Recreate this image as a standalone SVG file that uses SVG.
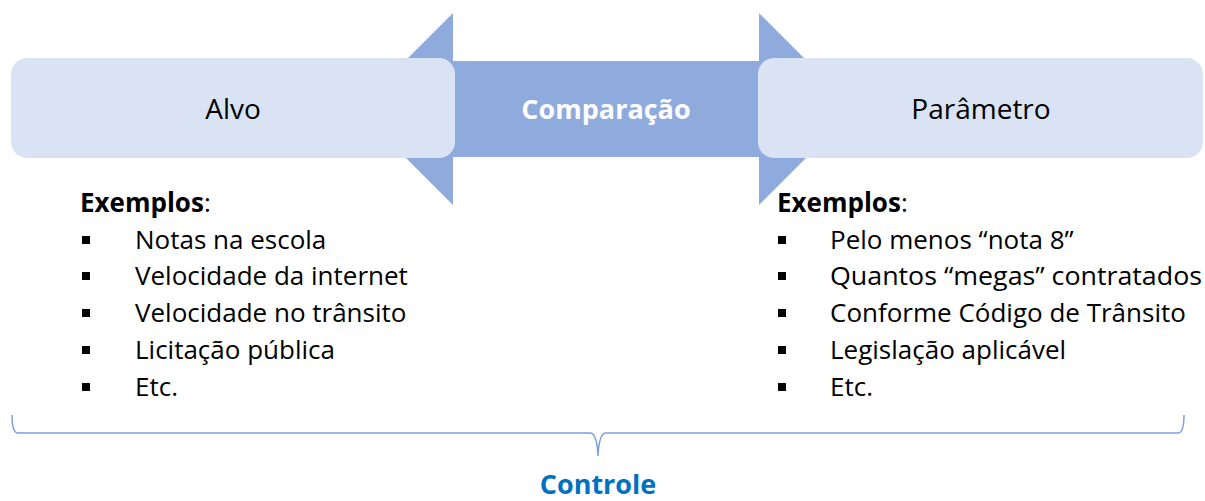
<svg xmlns="http://www.w3.org/2000/svg" width="1205" height="501" viewBox="0 0 1205 501">
<style>
.box{fill:#DAE3F3}
.arr{fill:#8FAADC}
.t{font-family:"Open Sans","Noto Sans",sans-serif;font-size:26px;fill:#000}
.lab{font-family:"Open Sans","Noto Sans",sans-serif;font-size:28px;fill:#000;text-anchor:middle}
.b{font-weight:bold}
.bul{fill:#000}
</style>
<rect width="1205" height="501" fill="#fff"/>
<g id="connectors">
<polygon id="arrow" class="arr" points="453,13 453,61 759,61 759,13 855,109 759,205 759,157 453,157 453,205 357,109"/>
<path id="brace" d="M12,415 Q12,433 18,433 L590,433 Q597,433 598,456 Q599,433 606,433 L1178,433 Q1184,433 1184,415" fill="none" stroke="#7F9FDB" stroke-width="1.5"/>
</g>
<g id="comparacao">
<text class="lab b" x="606" y="119" style="fill:#fff;font-size:27px">Comparação</text>
</g>
<g id="alvo">
<rect class="box" x="11" y="58" width="444" height="100" rx="16"/>
<text class="lab" x="233" y="119">Alvo</text>
</g>
<g id="parametro">
<rect class="box" x="758" y="58" width="445" height="100" rx="16"/>
<text class="lab" x="981" y="119">Parâmetro</text>
</g>
<g id="exemplos-alvo">
<text class="t" x="80" y="212"><tspan class="b">Exemplos</tspan>:</text>
<rect class="bul" x="82" y="236" width="8" height="8"/>
<rect class="bul" x="82" y="272" width="8" height="8"/>
<rect class="bul" x="82" y="309" width="8" height="8"/>
<rect class="bul" x="82" y="346" width="8" height="8"/>
<rect class="bul" x="82" y="383" width="8" height="8"/>
<text class="t" x="135" y="249">Notas na escola</text>
<text class="t" x="135" y="285">Velocidade da internet</text>
<text class="t" x="135" y="322">Velocidade no trânsito</text>
<text class="t" x="135" y="359">Licitação pública</text>
<text class="t" x="135" y="396">Etc.</text>
</g>
<g id="exemplos-parametro">
<text class="t" x="777" y="212"><tspan class="b">Exemplos</tspan>:</text>
<rect class="bul" x="778" y="236" width="8" height="8"/>
<rect class="bul" x="778" y="272" width="8" height="8"/>
<rect class="bul" x="778" y="309" width="8" height="8"/>
<rect class="bul" x="778" y="346" width="8" height="8"/>
<rect class="bul" x="778" y="383" width="8" height="8"/>
<text class="t" x="830" y="249">Pelo menos “nota 8”</text>
<text class="t" x="830" y="285" textLength="372" lengthAdjust="spacingAndGlyphs">Quantos “megas” contratados</text>
<text class="t" x="830" y="322">Conforme Código de Trânsito</text>
<text class="t" x="830" y="359">Legislação aplicável</text>
<text class="t" x="830" y="396">Etc.</text>
</g>
<g id="controle">
<text class="lab b" x="598" y="494" style="fill:#0070C0;font-size:27px">Controle</text>
</g>
</svg>
